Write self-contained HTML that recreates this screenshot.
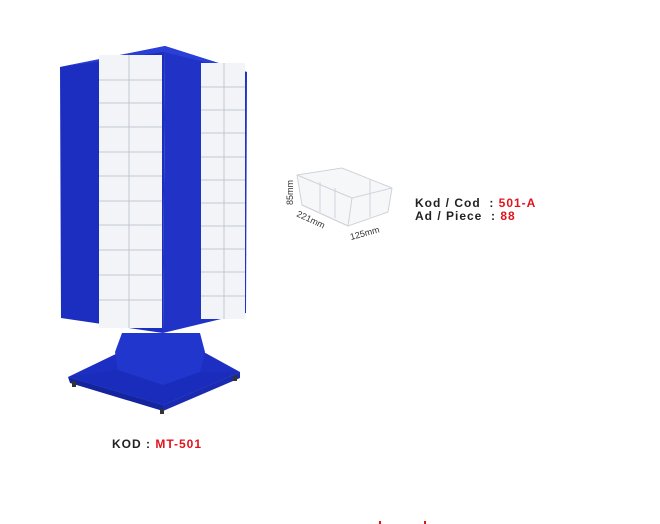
<!DOCTYPE html>
<html><head><style>
body{margin:0;background:#fff;width:660px;height:524px;overflow:hidden;position:relative;font-family:"Liberation Sans",sans-serif}
.t{position:absolute;font-weight:bold;font-size:12px;letter-spacing:1px;color:#222}
.r{color:#e0141e}
</style></head><body>
<svg width="660" height="524" style="position:absolute;left:0;top:0">
<polygon points="68,377 120,352 200,350 240,372 163,405" fill="#1c2fc2"/>
<polygon points="68,377 163,405 163,411 70,383" fill="#14249e"/>
<polygon points="163,405 240,372 240,378 163,411" fill="#1a2bb2"/>
<polygon points="118,370 163,385 200,372 240,372 163,405 68,377" fill="#1a2cbc"/>
<polygon points="122,333 200,333 205,352 200,372 163,385 118,370 115,352" fill="#2136cc"/>
<rect x="72" y="381" width="4" height="6" fill="#333"/><rect x="160" y="409" width="4" height="5" fill="#333"/><rect x="233" y="375" width="4" height="6" fill="#333"/>
<polygon points="60,67 165,46 163,333 61,318" fill="#1c2ec0"/>
<polygon points="165,46 247,72 246,313 163,333" fill="#2033c6"/>
<polygon points="60,67 165,46 247,72 163,52" fill="#2a3fd8"/>
<rect x="99" y="55" width="63" height="273" fill="#f2f4f8"/>
<rect x="201" y="63" width="44" height="256" fill="#f2f4f8"/>
<g stroke="#c2c7d2" stroke-width="1" fill="none">
<line x1="129" y1="55" x2="129" y2="328"/>
<line x1="224" y1="63" x2="224" y2="319"/>
<path d="M99,80H162M99,103H162M99,127H162M99,152H162M99,176H162M99,201H162M99,225H162M99,250H162M99,275H162M99,300H162"/>
<path d="M201,87H245M201,110H245M201,133H245M201,157H245M201,180H245M201,203H245M201,226H245M201,249H245M201,272H245M201,296H245"/>
</g>
<g stroke="#cfd3da" fill="#f6f7f9" stroke-width="1">
<polygon points="297,175 342,168 392,188 388,212 348,226 302,205"/>
<path d="M302,205 L348,226 L352,198 L392,188 M297,175 L352,198 M320,182V212 M335,188V218 M370,180V217" fill="none"/>
</g>
<text x="0" y="0" transform="translate(293,205) rotate(-90)" font-size="9" fill="#333" font-family="Liberation Sans">85mm</text>
<text x="0" y="0" transform="translate(296,216) rotate(25)" font-size="9" fill="#333" font-family="Liberation Sans">221mm</text>
<text x="0" y="0" transform="translate(351,240) rotate(-15)" font-size="9" fill="#333" font-family="Liberation Sans">125mm</text>
<rect x="379" y="521" width="2" height="3" fill="#e0141e"/><rect x="424" y="521" width="2" height="3" fill="#e0141e"/>
</svg>
<div class="t" style="left:415px;top:196px">Kod / Cod &nbsp;: <span class="r">501-A</span></div>
<div class="t" style="left:415px;top:209px">Ad / Piece &nbsp;: <span class="r">88</span></div>
<div class="t" style="left:112px;top:437px">KOD : <span class="r">MT-501</span></div>
</body></html>
